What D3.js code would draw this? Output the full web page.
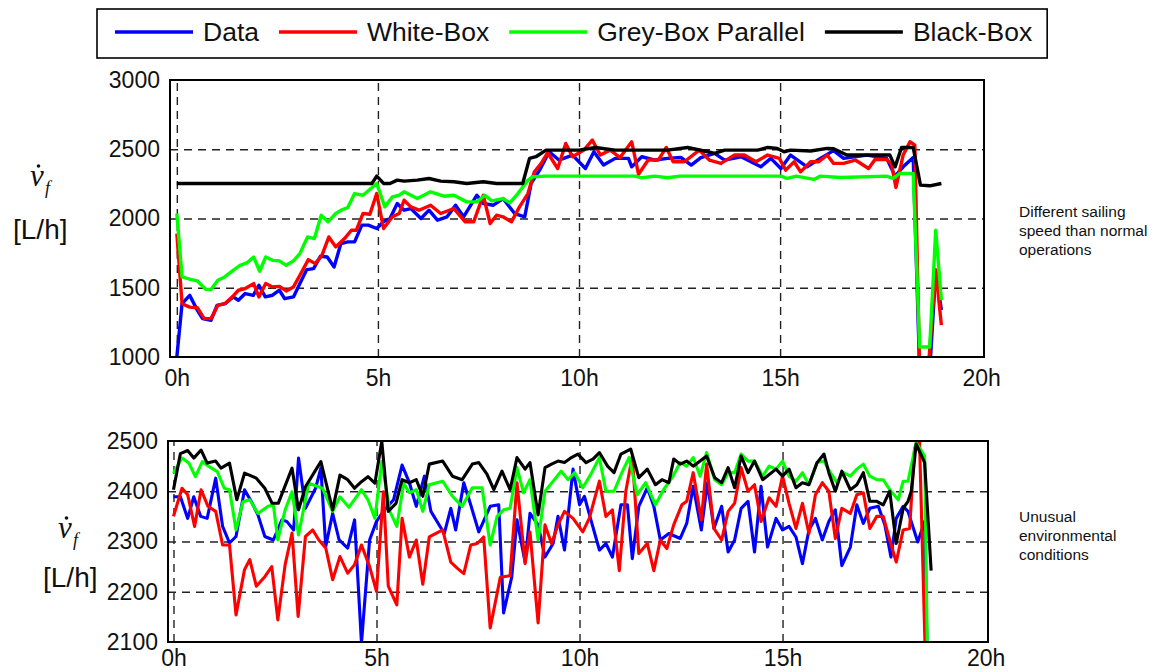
<!DOCTYPE html>
<html>
<head>
<meta charset="utf-8">
<script src="https://cdn.jsdelivr.net/npm/d3@7"></script>
<style>
  body { margin: 0; background: #fff; }
  text { font-family: "Liberation Sans", Arial, Helvetica, sans-serif; fill: #111; }
</style>
</head>
<body>
<script>
// series names + colours (legend order = draw order)
var seriesNames = ["Data", "White-Box", "Grey-Box Parallel", "Black-Box"];
var seriesColors = ["#0000ff", "#ff0000", "#00ff00", "#000000"];

var xTicks = [0, 5, 10, 15, 20];
var topYTicks = [1000, 1500, 2000, 2500, 3000];
var bottomYTicks = [2100, 2200, 2300, 2400, 2500];

// ---- top panel: [hour, L/h] ----
var topData = [[0,1000],[0.13,1385],[0.32,1445],[0.51,1337],[0.64,1277],[0.85,1265],[1.0,1373],[1.2,1385],[1.4,1434],[1.53,1410],[1.7,1458],[1.9,1445],[2.04,1518],[2.2,1434],[2.38,1446],[2.55,1482],[2.68,1421],[2.9,1434],[3.06,1530],[3.23,1631],[3.4,1638],[3.57,1727],[3.74,1722],[3.91,1650],[4.08,1819],[4.25,1831],[4.42,1831],[4.6,1952],[4.76,1952],[4.97,1928],[5.14,1976],[5.3,2000],[5.48,2108],[5.65,2060],[5.82,2072],[6.07,2000],[6.27,2060],[6.48,1988],[6.72,2012],[6.93,2096],[7.13,2012],[7.46,2168],[7.62,2108],[7.87,2096],[8.11,2144],[8.4,2036],[8.65,2012],[8.81,2253],[9.02,2349],[9.26,2482],[9.5,2422],[9.84,2458],[10.16,2361],[10.37,2482],[10.61,2386],[10.9,2434],[11.23,2434],[11.31,2373],[11.56,2446],[11.89,2422],[12.2,2434],[12.54,2440],[12.79,2386],[13.03,2440],[13.37,2470],[13.62,2422],[14.03,2446],[14.52,2373],[14.77,2434],[15.02,2361],[15.26,2458],[15.67,2373],[16.0,2434],[16.33,2490],[16.58,2434],[17.16,2458],[17.65,2434],[17.86,2306],[18.06,2373],[18.31,2440],[18.47,900],[18.72,900],[18.87,1620],[19.01,1340]];
var topWhite = [[0,1890],[0.13,1385],[0.32,1360],[0.51,1356],[0.68,1277],[0.85,1277],[1.02,1373],[1.19,1385],[1.38,1434],[1.53,1482],[1.7,1494],[1.91,1530],[2.04,1434],[2.21,1530],[2.38,1506],[2.55,1510],[2.72,1477],[2.9,1506],[3.06,1590],[3.27,1703],[3.44,1674],[3.61,1735],[3.78,1867],[3.95,1795],[4.17,1855],[4.34,1915],[4.46,1915],[4.63,2036],[4.8,2031],[4.97,2180],[5.14,1928],[5.36,2012],[5.53,2036],[5.65,2132],[5.82,2084],[6.02,2060],[6.31,2096],[6.56,2036],[6.89,2072],[7.17,1976],[7.38,1976],[7.62,2168],[7.79,1964],[7.95,2024],[8.11,2012],[8.32,1976],[8.52,2084],[8.73,2180],[8.89,2337],[9.06,2398],[9.22,2475],[9.47,2361],[9.67,2542],[9.84,2446],[10.12,2494],[10.33,2566],[10.53,2458],[10.78,2494],[11.02,2440],[11.31,2554],[11.48,2320],[11.72,2422],[11.97,2422],[12.17,2513],[12.34,2410],[12.62,2410],[12.99,2494],[13.24,2422],[13.53,2398],[13.86,2458],[14.11,2458],[14.4,2410],[14.69,2458],[14.98,2434],[15.14,2349],[15.35,2410],[15.51,2337],[15.76,2410],[15.96,2410],[16.17,2458],[16.33,2398],[16.58,2398],[16.87,2422],[17.2,2361],[17.36,2426],[17.65,2426],[17.77,2393],[17.88,2224],[18.06,2458],[18.23,2554],[18.35,2530],[18.47,900],[18.68,900],[18.87,1630],[19.01,1230]];
var topGrey = [[0,2036],[0.13,1578],[0.34,1561],[0.51,1549],[0.72,1489],[0.85,1487],[1.02,1554],[1.19,1578],[1.4,1626],[1.57,1662],[1.74,1679],[1.91,1722],[2.06,1619],[2.21,1722],[2.38,1698],[2.55,1694],[2.72,1662],[2.9,1694],[3.06,1747],[3.25,1867],[3.42,1855],[3.59,2024],[3.76,1976],[3.95,2036],[4.12,2065],[4.25,2079],[4.42,2180],[4.63,2168],[4.97,2253],[5.17,2084],[5.36,2156],[5.53,2168],[5.65,2193],[5.98,2144],[6.31,2193],[6.64,2161],[6.89,2168],[7.21,2120],[7.46,2120],[7.66,2168],[7.83,2127],[8.11,2144],[8.28,2113],[8.48,2180],[8.73,2277],[8.85,2301],[9.18,2306],[11.4,2306],[11.56,2294],[11.89,2306],[12.2,2294],[12.5,2306],[15.02,2306],[15.18,2289],[15.4,2306],[15.84,2282],[16.0,2306],[16.5,2296],[17.65,2306],[17.81,2289],[17.98,2325],[18.31,2325],[18.47,1072],[18.72,1072],[18.87,1916],[19.01,1410]];
var topBlack = [[0,2253],[4.85,2253],[4.97,2306],[5.14,2253],[5.3,2253],[5.48,2277],[5.65,2270],[5.98,2277],[6.27,2289],[6.56,2270],[6.89,2265],[7.21,2253],[7.62,2265],[7.95,2253],[8.6,2253],[8.77,2434],[8.93,2446],[9.18,2494],[10.0,2494],[10.41,2513],[10.9,2494],[12.2,2494],[12.7,2513],[13.2,2482],[13.37,2470],[13.62,2494],[14.44,2494],[14.69,2513],[14.93,2506],[15.1,2482],[15.26,2494],[15.76,2487],[16.17,2506],[16.33,2504],[16.66,2458],[17.73,2458],[17.86,2373],[18.02,2513],[18.31,2513],[18.49,2241],[18.72,2236],[19.01,2253]];

// ---- bottom panel ----
var botData = [[0,2389],[0.17,2389],[0.35,2346],[0.5,2389],[0.67,2350],[0.83,2346],[1.04,2426],[1.21,2330],[1.38,2297],[1.54,2310],[1.75,2403],[1.92,2379],[2.08,2353],[2.25,2310],[2.46,2303],[2.67,2343],[2.79,2340],[2.96,2323],[3.08,2466],[3.25,2366],[3.5,2406],[3.63,2446],[3.75,2290],[3.92,2356],[4.08,2303],[4.29,2287],[4.46,2343],[4.63,2098],[4.83,2303],[5.0,2340],[5.17,2360],[5.42,2383],[5.63,2452],[5.81,2417],[5.98,2370],[6.18,2430],[6.34,2360],[6.67,2316],[6.83,2366],[6.95,2323],[7.15,2417],[7.32,2373],[7.52,2319],[7.8,2370],[8.01,2373],[8.13,2158],[8.33,2229],[8.46,2343],[8.66,2259],[8.78,2356],[8.98,2333],[9.15,2269],[9.35,2296],[9.47,2350],[9.63,2283],[9.84,2444],[10.0,2373],[10.12,2390],[10.28,2343],[10.49,2283],[10.65,2296],[10.81,2269],[11.02,2373],[11.18,2373],[11.3,2266],[11.46,2370],[11.67,2407],[11.83,2370],[11.99,2303],[12.2,2316],[12.48,2306],[12.64,2336],[12.8,2410],[13.0,2323],[13.15,2417],[13.31,2326],[13.5,2370],[13.66,2279],[13.82,2303],[13.98,2366],[14.15,2380],[14.31,2279],[14.47,2410],[14.63,2289],[14.84,2346],[15.0,2323],[15.16,2330],[15.33,2309],[15.49,2256],[15.65,2323],[15.81,2346],[15.98,2303],[16.14,2340],[16.3,2363],[16.46,2252],[16.67,2289],[16.83,2373],[16.99,2336],[17.15,2366],[17.36,2370],[17.52,2333],[17.67,2269],[17.8,2346],[17.97,2370],[18.09,2360],[18.33,2299],[18.5,2340],[18.58,2000]];
var botWhite = [[0,2350],[0.21,2406],[0.35,2393],[0.52,2330],[0.68,2403],[0.85,2370],[1.04,2360],[1.21,2293],[1.38,2293],[1.54,2154],[1.75,2244],[1.88,2264],[2.04,2211],[2.25,2230],[2.42,2250],[2.57,2144],[2.75,2254],[2.92,2317],[3.07,2151],[3.25,2310],[3.43,2323],[3.58,2303],[3.75,2287],[3.92,2224],[4.1,2270],[4.29,2237],[4.46,2254],[4.63,2293],[4.83,2250],[5.0,2201],[5.17,2399],[5.29,2211],[5.5,2174],[5.63,2346],[5.81,2269],[5.98,2303],[6.14,2215],[6.3,2309],[6.63,2323],[6.83,2259],[7.0,2246],[7.15,2236],[7.32,2293],[7.48,2296],[7.64,2309],[7.8,2128],[8.05,2229],[8.29,2232],[8.46,2417],[8.66,2256],[8.78,2319],[8.98,2138],[9.15,2333],[9.31,2296],[9.47,2333],[9.63,2360],[9.84,2346],[10.08,2319],[10.24,2346],[10.49,2420],[10.65,2350],[10.81,2363],[10.98,2242],[11.14,2400],[11.3,2470],[11.46,2276],[11.67,2296],[11.83,2242],[11.99,2303],[12.15,2286],[12.32,2333],[12.52,2373],[12.64,2380],[12.8,2437],[13.0,2343],[13.13,2454],[13.31,2326],[13.5,2303],[13.66,2360],[13.82,2376],[13.98,2447],[14.15,2400],[14.31,2413],[14.47,2340],[14.67,2387],[14.84,2370],[15.0,2430],[15.16,2376],[15.33,2326],[15.49,2376],[15.65,2316],[15.81,2393],[15.98,2417],[16.14,2400],[16.3,2306],[16.46,2366],[16.67,2356],[16.83,2393],[16.99,2397],[17.15,2326],[17.32,2350],[17.48,2350],[17.64,2303],[17.8,2259],[17.97,2323],[18.13,2326],[18.25,2484],[18.37,2510],[18.54,2000]];
var botGrey = [[0,2436],[0.21,2466],[0.38,2456],[0.54,2429],[0.71,2459],[0.88,2449],[1.08,2439],[1.25,2406],[1.38,2403],[1.54,2323],[1.71,2379],[1.88,2383],[2.08,2356],[2.33,2370],[2.46,2373],[2.57,2303],[2.75,2363],[2.92,2399],[3.08,2313],[3.33,2416],[3.67,2406],[3.92,2360],[4.1,2389],[4.32,2368],[4.63,2403],[4.79,2383],[4.96,2346],[5.13,2459],[5.33,2360],[5.5,2330],[5.67,2416],[5.81,2397],[5.98,2403],[6.14,2360],[6.3,2413],[6.63,2420],[6.87,2390],[7.11,2370],[7.36,2407],[7.6,2407],[7.8,2293],[7.97,2350],[8.13,2363],[8.29,2366],[8.46,2447],[8.62,2397],[8.78,2423],[8.98,2303],[9.15,2400],[9.35,2420],[9.55,2440],[9.72,2423],[9.88,2437],[10.08,2407],[10.28,2434],[10.49,2467],[10.65,2400],[10.85,2400],[11.06,2440],[11.22,2467],[11.42,2393],[11.63,2417],[11.87,2373],[12.07,2403],[12.28,2427],[12.48,2457],[12.64,2450],[12.8,2467],[12.97,2430],[13.13,2477],[13.33,2423],[13.5,2413],[13.66,2437],[13.82,2437],[13.98,2474],[14.15,2460],[14.31,2460],[14.51,2430],[14.67,2450],[14.84,2444],[15.0,2460],[15.16,2430],[15.33,2420],[15.49,2437],[15.65,2413],[15.85,2457],[16.02,2460],[16.18,2437],[16.34,2417],[16.5,2437],[16.67,2430],[16.83,2444],[16.99,2454],[17.15,2430],[17.32,2423],[17.48,2423],[17.64,2403],[17.85,2383],[17.97,2420],[18.09,2420],[18.29,2497],[18.5,2470],[18.58,2000]];
var botBlack = [[0,2403],[0.17,2475],[0.35,2481],[0.5,2466],[0.68,2482],[0.83,2456],[1.04,2460],[1.17,2446],[1.38,2456],[1.56,2383],[1.75,2436],[2.04,2426],[2.25,2406],[2.43,2376],[2.58,2376],[2.92,2446],[3.08,2363],[3.25,2409],[3.63,2459],[3.92,2363],[4.1,2432],[4.29,2423],[4.46,2406],[4.63,2419],[4.79,2429],[4.96,2416],[5.13,2499],[5.29,2360],[5.48,2376],[5.63,2423],[5.81,2417],[5.98,2423],[6.14,2390],[6.3,2454],[6.63,2460],[6.87,2430],[7.11,2423],[7.36,2454],[7.52,2457],[7.72,2434],[7.89,2403],[8.09,2440],[8.29,2403],[8.46,2467],[8.66,2444],[8.78,2457],[8.98,2353],[9.15,2447],[9.31,2454],[9.47,2460],[9.63,2457],[9.8,2467],[9.96,2474],[10.16,2457],[10.33,2464],[10.49,2477],[10.69,2450],[10.85,2437],[11.02,2474],[11.26,2484],[11.46,2427],[11.67,2444],[11.87,2413],[12.03,2423],[12.2,2417],[12.32,2464],[12.48,2454],[12.64,2460],[12.8,2450],[12.97,2460],[13.13,2470],[13.33,2427],[13.5,2417],[13.66,2447],[13.82,2407],[13.98,2470],[14.15,2437],[14.31,2460],[14.51,2423],[14.84,2444],[15.0,2430],[15.16,2444],[15.33,2407],[15.49,2417],[15.65,2413],[15.85,2457],[16.02,2474],[16.14,2437],[16.3,2400],[16.46,2440],[16.67,2403],[16.83,2413],[16.99,2437],[17.15,2380],[17.32,2380],[17.48,2373],[17.64,2400],[17.8,2296],[17.97,2366],[18.09,2380],[18.17,2400],[18.29,2494],[18.5,2457],[18.66,2242]];

var svg = d3.select("body").append("svg")
  .attr("width", 1164)
  .attr("height", 672)
  .style("background", "#fff");

function drawPanel(p) {
  var x = d3.scaleLinear().domain(p.xDomain).range([p.left, p.right]);
  var y = d3.scaleLinear().domain(p.yDomain).range([p.bottom, p.top]);
  var g = svg.append("g");
  var h = p.bottom - p.top;

  // dashed grid
  g.append("g")
    .attr("transform", "translate(0," + p.bottom + ")")
    .call(d3.axisBottom(x).tickValues(xTicks.slice(0, 4)).tickSize(-h).tickFormat(""))
    .call((a) => a.select(".domain").remove())
    .selectAll("line")
    .attr("stroke", "#222").attr("stroke-width", 1.4).attr("stroke-dasharray", "8,6");

  g.append("g")
    .attr("transform", "translate(" + p.left + ",0)")
    .call(d3.axisLeft(y).tickValues(p.yTicks.slice(1, -1)).tickSize(-(p.right - p.left)).tickFormat(""))
    .call((a) => a.select(".domain").remove())
    .selectAll("line")
    .attr("stroke", "#222").attr("stroke-width", 1.4).attr("stroke-dasharray", "8,6");

  // series, clipped to the box
  svg.append("clipPath").attr("id", p.id)
    .append("rect")
    .attr("x", p.left).attr("y", p.top)
    .attr("width", p.right - p.left).attr("height", h);

  var line = d3.line().x((d) => x(d[0])).y((d) => y(d[1]));
  g.append("g")
    .attr("clip-path", "url(#" + p.id + ")")
    .selectAll("path")
    .data(p.series)
    .enter()
    .append("path")
    .attr("d", line)
    .attr("fill", "none")
    .attr("stroke", (d, i) => seriesColors[i])
    .attr("stroke-width", p.lineWidth)
    .attr("stroke-linejoin", "round");

  // frame
  g.append("rect")
    .attr("x", p.left).attr("y", p.top)
    .attr("width", p.right - p.left).attr("height", h)
    .attr("fill", "none").attr("stroke", "#000").attr("stroke-width", 2);

  // tick labels
  var yAx = g.append("g")
    .attr("transform", "translate(" + p.left + ",0)")
    .call(d3.axisLeft(y).tickValues(p.yTicks).tickSize(0).tickPadding(10).tickFormat(d3.format("d")));
  yAx.select(".domain").remove();
  yAx.selectAll("text").style("font-size", "23px").attr("fill", "#111");

  var xAx = g.append("g")
    .attr("transform", "translate(0," + p.bottom + ")")
    .call(d3.axisBottom(x).tickValues(xTicks).tickSize(0).tickPadding(p.xPad).tickFormat((d) => d + "h"));
  xAx.select(".domain").remove();
  xAx.selectAll("text").style("font-size", "23px").attr("fill", "#111");

  // y title: v with a dot, subscript f, then [L/h]
  var t = g.append("g").attr("transform", "translate(" + p.titleX + "," + p.titleY + ")");
  t.append("text").attr("x", 0).attr("y", 0)
    .style("font-family", "'Liberation Serif', 'DejaVu Serif', serif")
    .style("font-style", "italic").style("font-size", "31px").text("v");
  t.append("circle").attr("cx", 8.5).attr("cy", -20).attr("r", 1.8).attr("fill", "#111");
  t.append("text").attr("x", 15).attr("y", 8)
    .style("font-family", "'Liberation Serif', 'DejaVu Serif', serif")
    .style("font-style", "italic").style("font-size", "18px").text("f");
  g.append("text")
    .attr("x", p.unitX).attr("y", p.unitY)
    .style("font-size", "28px")
    .text("[L/h]");

  // note at right
  g.append("text")
    .attr("x", 1019).attr("y", p.noteY)
    .style("font-size", "15.5px")
    .selectAll("tspan")
    .data(p.note)
    .enter()
    .append("tspan")
    .attr("x", 1019)
    .attr("dy", (d, i) => (i === 0 ? 0 : 19))
    .text((d) => d);
}

drawPanel({
  id: "clipTop",
  left: 170, right: 984, top: 80, bottom: 357,
  xDomain: [-0.17, 20.07], yDomain: [1000, 3000],
  yTicks: topYTicks, xPad: 13, lineWidth: 3.4,
  series: [topData, topWhite, topGrey, topBlack],
  titleX: 30, titleY: 186, unitX: 13, unitY: 239,
  noteY: 217, note: ["Different sailing", "speed than normal", "operations"]
});

drawPanel({
  id: "clipBottom",
  left: 168, right: 988, top: 441, bottom: 642,
  xDomain: [-0.135, 20.06], yDomain: [2100, 2500],
  yTicks: bottomYTicks, xPad: 8, lineWidth: 3.1,
  series: [botData, botWhite, botGrey, botBlack],
  titleX: 58, titleY: 538, unitX: 43, unitY: 587,
  noteY: 522, note: ["Unusual", "environmental", "conditions"]
});

// legend
var legend = svg.append("g");
var legendBox = legend.append("rect")
  .attr("y", 9).attr("height", 49)
  .attr("fill", "#fff").attr("stroke", "#000").attr("stroke-width", 1.6);

var lx = 115;
seriesNames.forEach(function (name, i) {
  legend.append("line")
    .attr("x1", lx).attr("x2", lx + 78)
    .attr("y1", 32).attr("y2", 32)
    .attr("stroke", seriesColors[i]).attr("stroke-width", 3.5);
  var txt = legend.append("text")
    .attr("x", lx + 88).attr("y", 41)
    .style("font-size", "26.5px")
    .text(name);
  lx = lx + 88 + txt.node().getComputedTextLength() + 20;
});
legendBox.attr("x", 97).attr("width", lx - 5 - 97);
</script>
</body>
</html>
